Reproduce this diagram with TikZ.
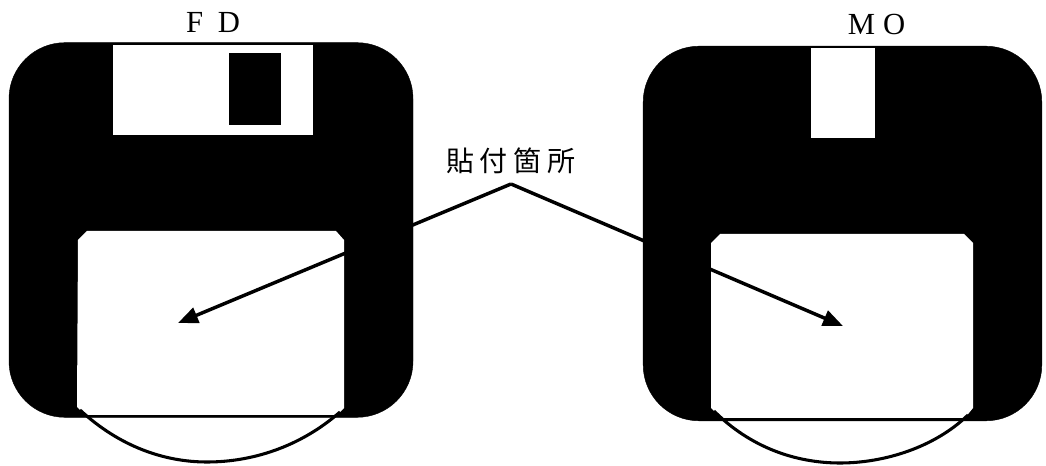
\documentclass[tikz,border=0pt]{standalone}
\usepackage{fontspec}
\setmainfont{Liberation Serif}
\newfontfamily\cjkfont{Noto Sans CJK JP}
\usetikzlibrary{arrows.meta,positioning}
\tikzset{
  x=0.75pt,y=-0.75pt,
  body/.style={fill=black,draw=black,line width=0.3pt,rounded corners=42pt,inner sep=0pt},
  shut/.style={fill=white,inner sep=0pt},
  hole/.style={fill=black,inner sep=0pt},
  win/.style={fill=white},
  rim/.style={draw=black,line width=2.3pt},
  edgeline/.style={draw=black,line width=1.5pt},
  lead/.style={draw=black,line width=2.6pt,-{Triangle[length=15pt,width=12pt]}},
  title/.style={font=\fontsize{23pt}{25pt}\selectfont,inner sep=0pt,text=black},
  callout/.style={font=\cjkfont\fontsize{21pt}{23pt}\selectfont,inner sep=0pt,text=black}
}
\begin{document}
\begin{tikzpicture}
\useasboundingbox (0,0) rectangle (1046,466);
% FD
\node[body,minimum width=303pt,minimum height=281pt] (fd) at (211,230) {};
\node[shut,minimum width=150pt,minimum height=68pt] (fdshutter) at (212.5,90) {};
\node[hole,minimum width=39pt,minimum height=54pt] (fdhole) at (255,89) {};
\fill[win] (87,231) -- (336,231) -- (344,240) -- (344,408) -- (336,416) -- (86,416) -- (77,407) -- (78,240) -- cycle;
\draw[edgeline] (84,416) -- (338,416);
\draw[rim] (80,410) .. controls (120,447) and (165,462) .. (207,462) .. controls (252,462) and (300,447) .. (340,412);
\node[title] (fdlabel) at (213,22) {F\hspace{11pt}D};
% MO
\node[body,minimum width=299pt,minimum height=281pt] (mo) at (842.5,233.5) {};
\node[shut,minimum width=48pt,minimum height=68pt] (moshutter) at (843,93) {};
\fill[win] (720,234) -- (964,234) -- (973,243) -- (973,408) -- (964,419) -- (722,419) -- (711,408) -- (711,243) -- cycle;
\draw[edgeline] (720,419) -- (966,419);
\draw[rim] (714,411) .. controls (750,447) and (795,463) .. (840,463) .. controls (885,463) and (935,447) .. (968,415);
\node[title] (molabel) at (876.5,25) {M\hspace{6pt}O};
% callout
\node[callout] (place) at (511,161) {貼\hspace{4.5pt}付\hspace{4.5pt}箇\hspace{4.5pt}所};
\coordinate (apex) at (511,184);
\coordinate (fdtarget) at (178,323);
\coordinate (motarget) at (843,326);
\draw[lead,line join=round] (apex) -- (fdtarget);
\draw[lead,line join=round] (apex) -- (motarget);
\end{tikzpicture}
\end{document}
